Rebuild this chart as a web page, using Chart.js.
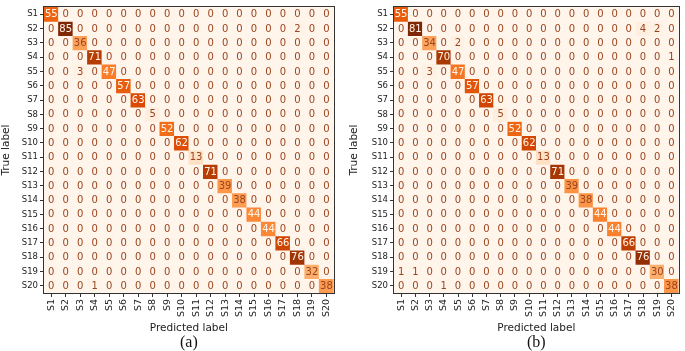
<!DOCTYPE html>
<html>
<head>
<meta charset="utf-8">
<script src="https://cdn.jsdelivr.net/npm/chart.js@4.4.1/dist/chart.umd.min.js"></script>
<style>
  html, body { margin: 0; padding: 0; background: #fff; }
  .wrap { position: absolute; top: 0; height: 351px; }
  #wrapA { left: 0; width: 340px; }
  #wrapB { left: 340px; width: 345px; }
</style>
</head>
<body>
<div class="wrap" id="wrapA"><canvas id="chartA"></canvas></div>
<div class="wrap" id="wrapB"><canvas id="chartB"></canvas></div>
<script>
// class names, used for both axes
const classLabels = ['S1', 'S2', 'S3', 'S4', 'S5', 'S6', 'S7', 'S8', 'S9', 'S10',
                     'S11', 'S12', 'S13', 'S14', 'S15', 'S16', 'S17', 'S18', 'S19', 'S20'];

// confusion matrix (a): rows = true label, columns = predicted label
const matrixA = [
    [55, 0, 0, 0, 0, 0, 0, 0, 0, 0, 0, 0, 0, 0, 0, 0, 0, 0, 0, 0],
    [0, 85, 0, 0, 0, 0, 0, 0, 0, 0, 0, 0, 0, 0, 0, 0, 0, 2, 0, 0],
    [0, 0, 36, 0, 0, 0, 0, 0, 0, 0, 0, 0, 0, 0, 0, 0, 0, 0, 0, 0],
    [0, 0, 0, 71, 0, 0, 0, 0, 0, 0, 0, 0, 0, 0, 0, 0, 0, 0, 0, 0],
    [0, 0, 3, 0, 47, 0, 0, 0, 0, 0, 0, 0, 0, 0, 0, 0, 0, 0, 0, 0],
    [0, 0, 0, 0, 0, 57, 0, 0, 0, 0, 0, 0, 0, 0, 0, 0, 0, 0, 0, 0],
    [0, 0, 0, 0, 0, 0, 63, 0, 0, 0, 0, 0, 0, 0, 0, 0, 0, 0, 0, 0],
    [0, 0, 0, 0, 0, 0, 0, 5, 0, 0, 0, 0, 0, 0, 0, 0, 0, 0, 0, 0],
    [0, 0, 0, 0, 0, 0, 0, 0, 52, 0, 0, 0, 0, 0, 0, 0, 0, 0, 0, 0],
    [0, 0, 0, 0, 0, 0, 0, 0, 0, 62, 0, 0, 0, 0, 0, 0, 0, 0, 0, 0],
    [0, 0, 0, 0, 0, 0, 0, 0, 0, 0, 13, 0, 0, 0, 0, 0, 0, 0, 0, 0],
    [0, 0, 0, 0, 0, 0, 0, 0, 0, 0, 0, 71, 0, 0, 0, 0, 0, 0, 0, 0],
    [0, 0, 0, 0, 0, 0, 0, 0, 0, 0, 0, 0, 39, 0, 0, 0, 0, 0, 0, 0],
    [0, 0, 0, 0, 0, 0, 0, 0, 0, 0, 0, 0, 0, 38, 0, 0, 0, 0, 0, 0],
    [0, 0, 0, 0, 0, 0, 0, 0, 0, 0, 0, 0, 0, 0, 44, 0, 0, 0, 0, 0],
    [0, 0, 0, 0, 0, 0, 0, 0, 0, 0, 0, 0, 0, 0, 0, 44, 0, 0, 0, 0],
    [0, 0, 0, 0, 0, 0, 0, 0, 0, 0, 0, 0, 0, 0, 0, 0, 66, 0, 0, 0],
    [0, 0, 0, 0, 0, 0, 0, 0, 0, 0, 0, 0, 0, 0, 0, 0, 0, 76, 0, 0],
    [0, 0, 0, 0, 0, 0, 0, 0, 0, 0, 0, 0, 0, 0, 0, 0, 0, 0, 32, 0],
    [0, 0, 0, 1, 0, 0, 0, 0, 0, 0, 0, 0, 0, 0, 0, 0, 0, 0, 0, 38]
];

// confusion matrix (b)
const matrixB = [
    [55, 0, 0, 0, 0, 0, 0, 0, 0, 0, 0, 0, 0, 0, 0, 0, 0, 0, 0, 0],
    [0, 81, 0, 0, 0, 0, 0, 0, 0, 0, 0, 0, 0, 0, 0, 0, 0, 4, 2, 0],
    [0, 0, 34, 0, 2, 0, 0, 0, 0, 0, 0, 0, 0, 0, 0, 0, 0, 0, 0, 0],
    [0, 0, 0, 70, 0, 0, 0, 0, 0, 0, 0, 0, 0, 0, 0, 0, 0, 0, 0, 1],
    [0, 0, 3, 0, 47, 0, 0, 0, 0, 0, 0, 0, 0, 0, 0, 0, 0, 0, 0, 0],
    [0, 0, 0, 0, 0, 57, 0, 0, 0, 0, 0, 0, 0, 0, 0, 0, 0, 0, 0, 0],
    [0, 0, 0, 0, 0, 0, 63, 0, 0, 0, 0, 0, 0, 0, 0, 0, 0, 0, 0, 0],
    [0, 0, 0, 0, 0, 0, 0, 5, 0, 0, 0, 0, 0, 0, 0, 0, 0, 0, 0, 0],
    [0, 0, 0, 0, 0, 0, 0, 0, 52, 0, 0, 0, 0, 0, 0, 0, 0, 0, 0, 0],
    [0, 0, 0, 0, 0, 0, 0, 0, 0, 62, 0, 0, 0, 0, 0, 0, 0, 0, 0, 0],
    [0, 0, 0, 0, 0, 0, 0, 0, 0, 0, 13, 0, 0, 0, 0, 0, 0, 0, 0, 0],
    [0, 0, 0, 0, 0, 0, 0, 0, 0, 0, 0, 71, 0, 0, 0, 0, 0, 0, 0, 0],
    [0, 0, 0, 0, 0, 0, 0, 0, 0, 0, 0, 0, 39, 0, 0, 0, 0, 0, 0, 0],
    [0, 0, 0, 0, 0, 0, 0, 0, 0, 0, 0, 0, 0, 38, 0, 0, 0, 0, 0, 0],
    [0, 0, 0, 0, 0, 0, 0, 0, 0, 0, 0, 0, 0, 0, 44, 0, 0, 0, 0, 0],
    [0, 0, 0, 0, 0, 0, 0, 0, 0, 0, 0, 0, 0, 0, 0, 44, 0, 0, 0, 0],
    [0, 0, 0, 0, 0, 0, 0, 0, 0, 0, 0, 0, 0, 0, 0, 0, 66, 0, 0, 0],
    [0, 0, 0, 0, 0, 0, 0, 0, 0, 0, 0, 0, 0, 0, 0, 0, 0, 76, 0, 0],
    [1, 1, 0, 0, 0, 0, 0, 0, 0, 0, 0, 0, 0, 0, 0, 0, 0, 0, 30, 0],
    [0, 0, 0, 1, 0, 0, 0, 0, 0, 0, 0, 0, 0, 0, 0, 0, 0, 0, 0, 38]
];

const FONT = 'DejaVu Sans';

// matplotlib "Oranges" colormap stops
const orangeStops = ['#fff5eb', '#fee6ce', '#fdd0a2', '#fdae6b', '#fd8d3c',
                     '#f16913', '#d94801', '#a63603', '#7f2704'];

function hexToRgb(h) {
    return [1, 3, 5].map(i => parseInt(h.substr(i, 2), 16));
}

function orangeAt(t) {
    t = Math.max(0, Math.min(1, t));
    const pos = t * (orangeStops.length - 1);
    const i = Math.min(Math.floor(pos), orangeStops.length - 2);
    const f = pos - i;
    const a = hexToRgb(orangeStops[i]);
    const b = hexToRgb(orangeStops[i + 1]);
    const c = a.map((v, k) => Math.round(v + (b[k] - v) * f));
    return `rgb(${c[0]}, ${c[1]}, ${c[2]})`;
}

// one floating-bar dataset per true-label row
function buildDatasets(matrix) {
    const maxVal = Math.max(...matrix.flat());
    return matrix.map((row, r) => ({
        label: classLabels[r],
        data: row.map(() => [r - 0.5, r + 0.5]),
        counts: row,
        maxVal: maxVal,
        backgroundColor: row.map(v => orangeAt(v / maxVal)),
        borderWidth: 0,
        grouped: false,
        barPercentage: 1,
        categoryPercentage: 1
    }));
}

// writes the count in every cell and frames the plot
const cellTextPlugin = {
    id: 'cellText',
    afterDatasetsDraw(chart) {
        const ctx = chart.ctx;
        const yScale = chart.scales.y;
        ctx.save();
        ctx.font = `10px '${FONT}'`;
        ctx.textAlign = 'center';
        ctx.textBaseline = 'middle';
        chart.data.datasets.forEach((ds, r) => {
            const meta = chart.getDatasetMeta(r);
            const y = yScale.getPixelForValue(r);
            meta.data.forEach((bar, c) => {
                const v = ds.counts[c];
                ctx.fillStyle = v > ds.maxVal / 2 ? '#fff5eb' : '#9a4520';
                ctx.fillText(String(v), bar.x, y + 0.5);
            });
        });
        const a = chart.chartArea;
        ctx.strokeStyle = '#333';
        ctx.lineWidth = 1;
        ctx.strokeRect(Math.round(a.left) - 0.5, Math.round(a.top) - 0.5,
                       Math.round(a.right - a.left) + 1, Math.round(a.bottom - a.top) + 1);
        ctx.restore();
    }
};

function makeChart(canvasId, matrix, caption, pad, yWidth) {
    const canvas = document.getElementById(canvasId);
    return new Chart(canvas, {
        type: 'bar',
        data: {
            labels: classLabels,
            datasets: buildDatasets(matrix)
        },
        options: {
            responsive: true,
            maintainAspectRatio: false,
            animation: false,
            layout: { padding: { left: pad.left, right: pad.right, top: 1, bottom: 0 } },
            plugins: {
                legend: { display: false },
                tooltip: { enabled: false },
                title: {
                    display: true,
                    text: caption,
                    position: 'bottom',
                    fullSize: false,
                    padding: 0,
                    color: '#111',
                    font: { family: 'Liberation Serif', size: 16, lineHeight: 1, weight: 'normal' }
                }
            },
            scales: {
                x: {
                    type: 'category',
                    offset: true,
                    grid: { display: true, drawOnChartArea: false, offset: false, tickLength: 4, color: '#333' },
                    border: { display: false },
                    ticks: {
                        autoSkip: false, minRotation: 90, maxRotation: 90, padding: 2,
                        color: '#222', font: { family: FONT, size: 9.5 }
                    },
                    title: {
                        display: true, text: 'Predicted label', padding: 0,
                        color: '#222', font: { family: FONT, size: 10.5 }
                    },
                    afterFit: s => { s.height = 42; }
                },
                y: {
                    type: 'linear',
                    reverse: true,
                    min: -0.5,
                    max: 19.5,
                    afterBuildTicks: s => { s.ticks = classLabels.map((_, i) => ({ value: i })); },
                    grid: { display: true, drawOnChartArea: false, tickLength: 4, color: '#333' },
                    border: { display: false },
                    ticks: {
                        autoSkip: false, padding: 2, color: '#222',
                        font: { family: FONT, size: 8.5 },
                        callback: v => classLabels[v]
                    },
                    title: {
                        display: true, text: 'True label', padding: 0,
                        color: '#222', font: { family: FONT, size: 10.5 }
                    },
                    afterFit: s => { s.width = yWidth; }
                }
            }
        },
        plugins: [cellTextPlugin]
    });
}

makeChart('chartA', matrixA, '(a)', { left: 0, right: 6 }, 44);
makeChart('chartB', matrixB, '(b)', { left: 8, right: 5 }, 46);
</script>
</body>
</html>
